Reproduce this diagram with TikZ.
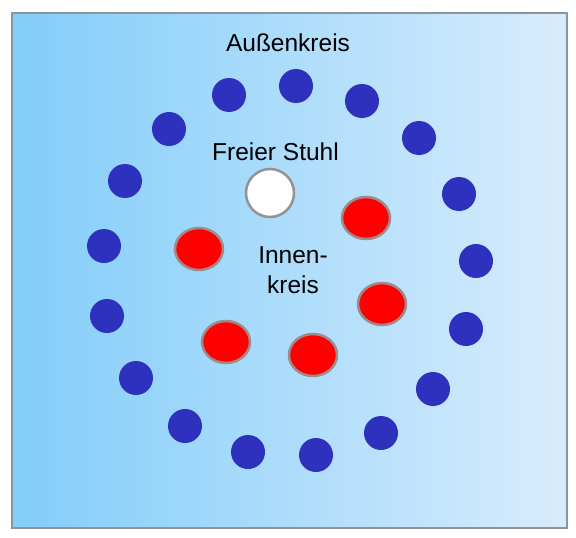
\documentclass[tikz,border=0pt]{standalone}
\usepackage{fontspec}
\setmainfont{Liberation Sans}
\usepackage{tikz}
\usetikzlibrary{shapes.geometric}

\definecolor{seatblue}{RGB}{46,48,190}
\definecolor{seatred}{RGB}{255,0,0}
\definecolor{seatrim}{RGB}{160,138,138}
\definecolor{frameleft}{RGB}{130,205,250}
\definecolor{frameright}{RGB}{216,236,252}
\definecolor{framegray}{RGB}{140,148,156}

\begin{document}
\begin{tikzpicture}[x=1pt, y=-1pt]
    	\tikzstyle{outer}=[circle, fill=seatblue, minimum size=34pt, inner sep=0pt];
    	\tikzstyle{inner}=[ellipse, fill=seatred, draw=seatrim, line width=2.5pt, minimum width=48pt, minimum height=42pt, inner sep=0pt];
    	\tikzstyle{free}=[circle, fill=white, draw=gray!85, line width=2.5pt, minimum size=48pt, inner sep=0pt];
    	\tikzstyle{label}=[font=\fontsize{24.5}{30}\selectfont, inner sep=0pt, anchor=base];

    \useasboundingbox (0,0) rectangle (576,538);

    % background
    \shade[left color=frameleft, right color=frameright] (12,13) rectangle (567,528);
    \draw[framegray, line width=2.5pt] (12,13) rectangle (567,528);

    % outer circle
    \node[outer] (o1) at (296, 86) {};
    \node[outer] (o2) at (362, 101) {};
    \node[outer] (o3) at (419, 138) {};
    \node[outer] (o4) at (459, 194) {};
    \node[outer] (o5) at (476, 261) {};
    \node[outer] (o6) at (466, 329) {};
    \node[outer] (o7) at (433, 389) {};
    \node[outer] (o8) at (381, 433) {};
    \node[outer] (o9) at (316, 455) {};
    \node[outer] (o10) at (248, 452) {};
    \node[outer] (o11) at (185, 426) {};
    \node[outer] (o12) at (136, 378) {};
    \node[outer] (o13) at (107, 316) {};
    \node[outer] (o14) at (104, 246) {};
    \node[outer] (o15) at (125, 181) {};
    \node[outer] (o16) at (169, 129) {};
    \node[outer] (o17) at (229, 95) {};

    % inner circle
    \node[inner] (i1) at (199, 249) {};
    \node[inner] (i2) at (366, 218) {};
    \node[inner] (i3) at (382, 304) {};
    \node[inner] (i4) at (313, 355) {};
    \node[inner] (i5) at (226, 342) {};
    \node[free] (f) at (270, 193) {};

    % texts
    \node[label] (outertext) at (288, 51) {Außenkreis};
    \node[label] (freetext) at (275.5, 160) {Freier Stuhl};
    \node[label, align=center] (innertext) at (293, 293) {Innen-\\kreis};

\end{tikzpicture}
\end{document}
